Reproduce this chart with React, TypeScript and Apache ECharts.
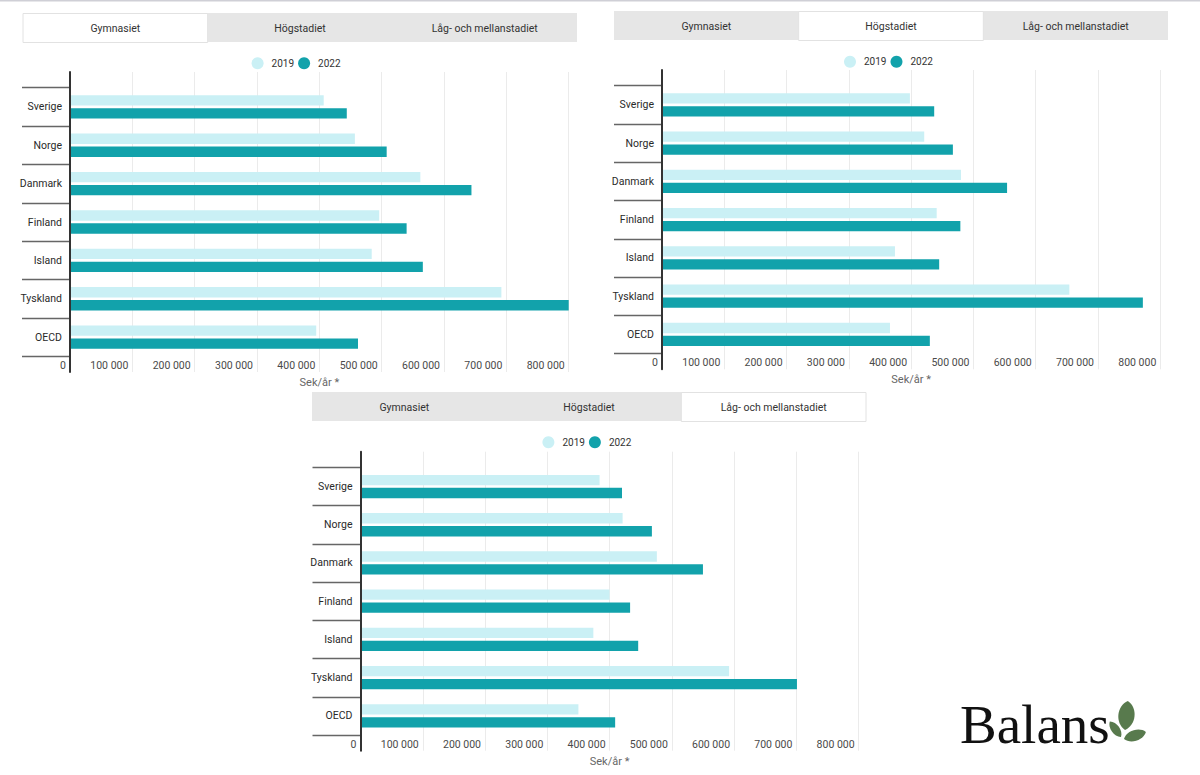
import React, { useEffect, useRef } from "react";
import * as echarts from "echarts";

const categories = ["Sverige", "Norge", "Danmark", "Finland", "Island", "Tyskland", "OECD"];
const seriesNames = ["2019", "2022"];
const tabLabels = ["Gymnasiet", "Högstadiet", "Låg- och mellanstadiet"];
const axisTitle = "Sek/år *";

const gym2019 = [407000, 457000, 562000, 496000, 484000, 692000, 395000];
const gym2022 = [444000, 508000, 644000, 540000, 566000, 800000, 462000];
const hog2019 = [398000, 421000, 480000, 441000, 374000, 654000, 366000];
const hog2022 = [437000, 467000, 554000, 479000, 445000, 772000, 430000];
const lag2019 = [384000, 421000, 476000, 400000, 374000, 592000, 350000];
const lag2022 = [420000, 468000, 550000, 433000, 446000, 701000, 409000];

const xMin = 0;
const xMax = 800000;
const xInterval = 100000;

const LIGHT = "#caf0f5";
const DARK = "#12a2ab";
const FONT = "Roboto";

let leafRegistered = false;
function registerLeaf() {
  if (leafRegistered) return;
  echarts.graphic.registerShape(
    "leaf",
    echarts.graphic.extendPath("M0 0 C40 -20 40 -80 0 -100 C-40 -80 -40 -20 0 0 Z", {})
  );
  leafRegistered = true;
}

const panels = [
  { d2019: gym2019, d2022: gym2022, active: 0, tabX: 23, tabY: 13, axisX: 70, right: 568.7, lineTop: 72, lineBottom: 372, legendX: 255.6, legendY: 63.3 },
  { d2019: hog2019, d2022: hog2022, active: 1, tabX: 614, tabY: 11, axisX: 662, right: 1160.3, lineTop: 70, lineBottom: 369.3, legendX: 848, legendY: 61.7 },
  { d2019: lag2019, d2022: lag2022, active: 2, tabX: 312, tabY: 392, axisX: 360.5, right: 858.6, lineTop: 451.7, lineBottom: 750.7, legendX: 546.4, legendY: 442.3 },
];

const fmt = (v: number) => String(v).replace(/\B(?=(\d{3})+(?!\d))/g, " ");

function buildOption() {
  const grid: any[] = [];
  const xAxis: any[] = [];
  const yAxis: any[] = [];
  const series: any[] = [];
  const legend: any[] = [];
  const graphic: any[] = [];

  graphic.push({ type: "rect", shape: { x: 0, y: 0, width: 1200, height: 1.5 }, style: { fill: "#cfcfd6" }, silent: true });

  panels.forEach((p, i) => {
    const w = p.right - p.axisX;
    const h = p.lineBottom - p.lineTop;
    const pad = 15.7;
    grid.push({ left: p.axisX, top: p.lineTop, width: w, height: h, containLabel: false });
    grid.push({ left: p.axisX, top: p.lineTop + pad, width: w, height: h - 2 * pad, containLabel: false });

    xAxis.push({
      type: "value",
      gridIndex: 2 * i,
      min: xMin,
      max: xMax,
      interval: xInterval,
      axisLine: { show: false },
      axisTick: { show: false },
      splitLine: { show: true, lineStyle: { color: "#ebebeb", width: 1 } },
      axisLabel: {
        inside: true,
        align: "right",
        margin: 1,
        padding: [0, 4, 0, 0],
        color: "#4a4a4a",
        fontSize: 10.5,
        fontWeight: "normal",
        fontFamily: FONT,
        formatter: (v: number) => fmt(v),
      },
      name: axisTitle,
      nameLocation: "middle",
      nameGap: 5,
      nameTextStyle: { color: "#666", fontSize: 11, fontFamily: FONT, verticalAlign: "top" },
    });
    xAxis.push({ type: "value", gridIndex: 2 * i + 1, min: xMin, max: xMax, show: false });

    yAxis.push({
      type: "value",
      gridIndex: 2 * i,
      z: 5,
      axisLine: { show: true, lineStyle: { color: "#333", width: 2 } },
      axisTick: { show: false },
      axisLabel: { show: false },
      splitLine: { show: false },
    });
    yAxis.push({
      type: "category",
      gridIndex: 2 * i + 1,
      inverse: true,
      data: categories,
      axisLine: { show: false },
      axisTick: { show: true, length: 48, lineStyle: { color: "#666", width: 1.3 } },
      axisLabel: { margin: 8, color: "#2a2a2a", fontSize: 10.5, fontWeight: "normal", fontFamily: FONT },
      splitLine: { show: false },
    });

    series.push({
      type: "bar",
      name: seriesNames[0],
      xAxisIndex: 2 * i + 1,
      yAxisIndex: 2 * i + 1,
      data: p.d2019,
      barWidth: 10.3,
      barGap: "26%",
      itemStyle: { color: LIGHT },
    });
    series.push({
      type: "bar",
      name: seriesNames[1],
      xAxisIndex: 2 * i + 1,
      yAxisIndex: 2 * i + 1,
      data: p.d2022,
      barWidth: 10.3,
      barGap: "26%",
      itemStyle: { color: DARK },
    });

    legend.push({
      left: p.legendX - 9,
      top: p.legendY - 11,
      data: seriesNames,
      icon: "circle",
      itemWidth: 18,
      itemHeight: 12,
      itemGap: 4,
      selectedMode: false,
      textStyle: { color: "#333", fontSize: 10, fontFamily: FONT },
    });

    const tabW = 554 / 3;
    const tabH = 29;
    graphic.push({ type: "rect", shape: { x: p.tabX, y: p.tabY, width: 554, height: tabH }, style: { fill: "#e6e6e6" }, silent: true });
    graphic.push({
      type: "rect",
      shape: { x: p.tabX + p.active * tabW, y: p.tabY + 0.5, width: tabW, height: tabH },
      style: { fill: "#ffffff", stroke: "#e2e2e2", lineWidth: 1 },
      silent: true,
    });
    tabLabels.forEach((t, k) => {
      graphic.push({
        type: "text",
        x: p.tabX + k * tabW + tabW / 2,
        y: p.tabY + tabH / 2 + 0.5,
        style: { text: t, fill: "#333", fontSize: 10.5, fontFamily: FONT, align: "center", verticalAlign: "middle" },
        silent: true,
      });
    });
  });

  graphic.push({
    type: "text",
    x: 960,
    y: 724,
    style: { text: "Balans", fill: "#111", fontSize: 55, fontFamily: "Liberation Serif", align: "left", verticalAlign: "middle" },
    silent: true,
  });
  const leafColor = "#587a4d";
  graphic.push({ type: "leaf", x: 1125, y: 730, rotation: -0.1, scaleX: 0.27, scaleY: 0.29, style: { fill: leafColor }, silent: true });
  graphic.push({ type: "leaf", x: 1121, y: 737, rotation: 0.63, scaleX: 0.14, scaleY: 0.19, style: { fill: leafColor }, silent: true });
  graphic.push({ type: "leaf", x: 1124, y: 739, rotation: -1.26, scaleX: 0.18, scaleY: 0.23, style: { fill: leafColor }, silent: true });

  return {
    animation: false,
    backgroundColor: "#ffffff",
    textStyle: { fontFamily: FONT },
    grid,
    xAxis,
    yAxis,
    series,
    legend,
    graphic,
  };
}

export default function App() {
  const ref = useRef<HTMLDivElement>(null);
  useEffect(() => {
    if (!ref.current) return;
    registerLeaf();
    const chart = echarts.init(ref.current, null, { renderer: "svg" });
    chart.setOption(buildOption() as any);
    return () => chart.dispose();
  }, []);
  return (
    <div
      ref={ref}
      style={{ position: "absolute", left: 0, top: 0, width: 1200, height: 775, background: "#fff" }}
    />
  );
}
